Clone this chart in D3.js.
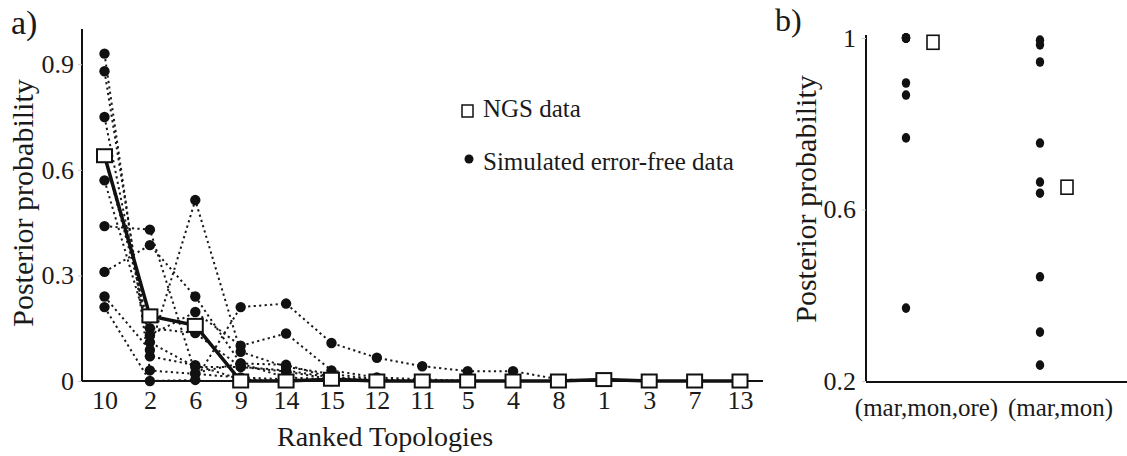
<!DOCTYPE html>
<html>
<head>
<meta charset="utf-8">
<script src="https://cdn.jsdelivr.net/npm/d3@7"></script>
<style>
  body { margin: 0; background: #fff; }
  svg text { font-family: "Liberation Serif", "DejaVu Serif", serif; fill: #1a1a1a; }
</style>
</head>
<body>
<div id="chart"></div>
<script>
// panel a: ranked topologies
var topologies = ["10", "2", "6", "9", "14", "15", "12", "11", "5", "4", "8", "1", "3", "7", "13"];
var ngsValues = [0.64, 0.185, 0.158, 0, 0, 0.005, 0, 0, 0, 0, 0, 0.004, 0, 0, 0];
var sim1 = [0.93, 0.03, 0.02, 0.01, 0.005, 0, 0, 0, 0, 0, 0, 0, 0, 0, 0];
var sim2 = [0.88, 0.07, 0.045, 0.005, 0, 0, 0, 0, 0, 0, 0, 0, 0, 0, 0];
var sim3 = [0.75, 0.11, 0.04, 0.04, 0.03, 0.01, 0.005, 0, 0, 0, 0, 0, 0, 0, 0];
var sim4 = [0.64, 0.15, 0.136, 0.04, 0.027, 0.005, 0, 0, 0, 0, 0, 0, 0, 0, 0];
var sim5 = [0.57, 0.13, 0.196, 0.10, 0.135, 0.03, 0.01, 0.005, 0, 0, 0, 0, 0, 0, 0];
var sim6 = [0.44, 0.43, 0.023, 0.05, 0.046, 0.01, 0, 0, 0, 0, 0, 0, 0, 0, 0];
var sim7 = [0.31, 0.386, 0.24, 0.05, 0.01, 0.005, 0, 0, 0, 0, 0, 0, 0, 0, 0];
var sim8 = [0.24, 0.088, 0.514, 0.083, 0.04, 0.02, 0.005, 0, 0, 0, 0, 0, 0, 0, 0];
var sim9 = [0.21, 0.0, 0.003, 0.21, 0.22, 0.108, 0.066, 0.042, 0.028, 0.028, 0.005, 0, 0, 0, 0];
var simRuns = [sim1, sim2, sim3, sim4, sim5, sim6, sim7, sim8, sim9];
var yTicksA = [0, 0.3, 0.6, 0.9];

// panel b: clade support
var clades = ["(mar,mon,ore)", "(mar,mon)"];
var ngsClade = [0.99, 0.652];
var simMarMonOre = [1.0, 1.0, 1.0, 1.0, 1.0, 0.895, 0.867, 0.767, 0.37];
var simMarMon = [0.995, 0.984, 0.944, 0.755, 0.664, 0.638, 0.443, 0.314, 0.237];
var yTicksB = [0.2, 0.6, 1];

var serif = "'Liberation Serif', 'DejaVu Serif', serif";
var width = 1127, height = 456;
var svg = d3.select("#chart").append("svg")
    .attr("width", width)
    .attr("height", height)
    .attr("font-family", serif);

function label(sel, size) {
    return sel.attr("font-family", serif).style("font-family", serif).style("font-size", size + "px");
}

// ---------- panel a ----------
var x = d3.scalePoint().domain(topologies).range([104.5, 740]);
var y = d3.scaleLinear().domain([0, 1]).range([381, 29]);

var line = d3.line()
    .x(function(d, i) { return x(topologies[i]); })
    .y(function(d) { return y(d); });

// dotted simulation lines
svg.append("g").selectAll("path")
    .data(simRuns)
    .enter()
    .append("path")
        .attr("d", line)
        .attr("fill", "none")
        .attr("stroke", "#1a1a1a")
        .attr("stroke-width", 2)
        .attr("stroke-dasharray", "2.2,3.3");

// axes
svg.append("line").attr("x1", 82).attr("x2", 82).attr("y1", 29).attr("y2", 381)
    .attr("stroke", "#111").attr("stroke-width", 2);
svg.append("line").attr("x1", 82).attr("x2", 763).attr("y1", 381).attr("y2", 381)
    .attr("stroke", "#111").attr("stroke-width", 2);

var yAxisA = svg.append("g")
    .attr("transform", "translate(82,0)")
    .call(d3.axisLeft(y).tickValues(yTicksA).tickSize(4).tickPadding(4)
        .tickFormat(function(d) { return d === 0 ? "0" : d3.format(".1f")(d); }));
yAxisA.attr("font-family", serif);
yAxisA.select(".domain").remove();
yAxisA.selectAll(".tick line").attr("stroke", "#ccc");
label(yAxisA.selectAll("text"), 26);

var xAxisA = svg.append("g")
    .attr("transform", "translate(0,381)")
    .call(d3.axisBottom(x).tickSize(0).tickPadding(28));
xAxisA.attr("font-family", serif);
xAxisA.select(".domain").remove();
label(xAxisA.selectAll("text"), 26).attr("dy", "0");

// simulated dots
simRuns.forEach(function(run) {
    svg.append("g").selectAll("circle")
        .data(run)
        .enter()
        .append("circle")
            .attr("cx", function(d, i) { return x(topologies[i]); })
            .attr("cy", function(d) { return y(d); })
            .attr("r", 5.2)
            .attr("fill", "#111");
});

// NGS line and squares
svg.append("path")
    .datum(ngsValues)
    .attr("d", line)
    .attr("fill", "none")
    .attr("stroke", "#111")
    .attr("stroke-width", 3.5);

svg.append("g").selectAll("rect")
    .data(ngsValues)
    .enter()
    .append("rect")
        .attr("x", function(d, i) { return x(topologies[i]) - 7.5; })
        .attr("y", function(d) { return y(d) - 6.5; })
        .attr("width", 15)
        .attr("height", 13)
        .attr("fill", "#fff")
        .attr("stroke", "#111")
        .attr("stroke-width", 2);

label(svg.append("text"), 28).attr("x", 385).attr("y", 446).attr("text-anchor", "middle")
    .text("Ranked Topologies");
label(svg.append("text"), 30).attr("transform", "translate(33,203) rotate(-90)").attr("text-anchor", "middle")
    .text("Posterior probability");
label(svg.append("text"), 34).attr("x", 11).attr("y", 34).text("a)");

// legend
svg.append("rect").attr("x", 462).attr("y", 105).attr("width", 11).attr("height", 12)
    .attr("fill", "#fff").attr("stroke", "#111").attr("stroke-width", 1.5);
label(svg.append("text"), 25).attr("x", 483).attr("y", 117).text("NGS data");
svg.append("circle").attr("cx", 469).attr("cy", 159).attr("r", 4.5).attr("fill", "#111");
label(svg.append("text"), 25).attr("x", 483).attr("y", 170).text("Simulated error-free data");

// ---------- panel b ----------
var xb = d3.scalePoint().domain(clades).range([919, 1053]);
var yb = d3.scaleLinear().domain([0.2, 1]).range([381, 38]);

svg.append("line").attr("x1", 866).attr("x2", 866).attr("y1", 35).attr("y2", 382)
    .attr("stroke", "#111").attr("stroke-width", 2);
svg.append("line").attr("x1", 866).attr("x2", 1127).attr("y1", 382).attr("y2", 382)
    .attr("stroke", "#111").attr("stroke-width", 2);

var yAxisB = svg.append("g")
    .attr("transform", "translate(866,0)")
    .call(d3.axisLeft(yb).tickValues(yTicksB).tickSize(4).tickPadding(6)
        .tickFormat(function(d) { return d === 1 ? "1" : d3.format(".1f")(d); }));
yAxisB.attr("font-family", serif);
yAxisB.select(".domain").remove();
yAxisB.selectAll(".tick line").attr("stroke", "#ccc");
label(yAxisB.selectAll("text"), 26);

var xAxisB = svg.append("g")
    .attr("transform", "translate(7,382)")
    .call(d3.axisBottom(xb).tickSize(0).tickPadding(34));
xAxisB.attr("font-family", serif);
xAxisB.select(".domain").remove();
label(xAxisB.selectAll("text"), 25).attr("dy", "0");

[simMarMonOre, simMarMon].forEach(function(vals, k) {
    svg.append("g").selectAll("ellipse")
        .data(vals)
        .enter()
        .append("ellipse")
            .attr("cx", xb(clades[k]) - 13)
            .attr("cy", function(d) { return yb(d); })
            .attr("rx", 4.2)
            .attr("ry", 4.8)
            .attr("fill", "#111");
});

svg.append("g").selectAll("rect")
    .data(ngsClade)
    .enter()
    .append("rect")
        .attr("x", function(d, i) { return xb(clades[i]) + 8; })
        .attr("y", function(d) { return yb(d) - 7; })
        .attr("width", 12)
        .attr("height", 14)
        .attr("fill", "#fff")
        .attr("stroke", "#111")
        .attr("stroke-width", 1.6);

label(svg.append("text"), 30).attr("transform", "translate(816,199) rotate(-90)").attr("text-anchor", "middle")
    .text("Posterior probability");
label(svg.append("text"), 32).attr("x", 775).attr("y", 31).text("b)");
</script>
</body>
</html>
